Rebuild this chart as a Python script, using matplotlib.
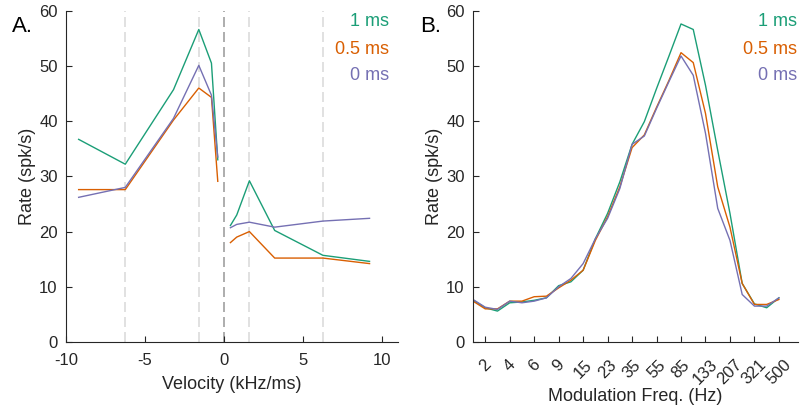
import matplotlib
matplotlib.use("Agg")
import matplotlib.pyplot as plt
import numpy as np

plt.rcParams['font.family'] = ['Liberation Sans', 'DejaVu Sans']
plt.rcParams['axes.unicode_minus'] = False

# ---- Panel A data ----
vel_neg = [-9.2, -6.25, -3.2, -1.6, -0.8, -0.4]
vel_pos = [0.4, 0.8, 1.6, 3.2, 6.25, 9.2]
a_1ms_neg = [36.7, 32.2, 45.7, 56.6, 50.5, 33.0]
a_1ms_pos = [21.1, 23.0, 29.2, 20.2, 15.7, 14.6]
a_05ms_neg = [27.6, 27.6, 40.2, 46.0, 44.3, 29.1]
a_05ms_pos = [18.0, 19.0, 20.0, 15.2, 15.2, 14.2]
a_0ms_neg = [26.2, 28.0, 40.5, 50.1, 44.7, 33.5]
a_0ms_pos = [20.7, 21.3, 21.7, 20.8, 21.9, 22.4]
vlines_light = [-6.25, -1.6, 1.6, 6.25]
vline_dark = [0]

# ---- Panel B data ----
freq_labels = ['2', '4', '6', '9', '15', '23', '35', '55', '85', '133', '207', '321', '500']
b_1ms = [7.6, 6.2, 5.6, 7.1, 7.25, 7.55, 8.0, 10.2, 10.9, 13.0, 18.7, 23.3, 29.0,
         35.8, 39.9, 45.9, 51.7, 57.6, 56.6, 46.5, 34.7, 23.3, 10.6, 6.9, 6.2, 8.0]
b_05ms = [7.4, 6.0, 6.0, 7.4, 7.4, 8.2, 8.3, 9.8, 11.2, 13.0, 18.4, 22.7, 28.1,
          35.2, 37.5, 42.5, 47.3, 52.4, 50.6, 41.4, 28.1, 20.8, 10.6, 6.8, 6.8, 7.7]
b_0ms = [7.7, 6.3, 5.9, 7.4, 7.1, 7.4, 8.0, 10.0, 11.5, 14.2, 18.7, 22.4, 27.8,
         35.8, 37.3, 42.3, 47.1, 51.8, 48.3, 37.8, 24.2, 18.4, 8.6, 6.5, 6.5, 8.0]

legend_labels = ['1 ms', '0.5 ms', '0 ms']
colors = ['#1b9e77', '#d95f02', '#7570b3']
axcol = '#262626'

fig = plt.figure(figsize=(8.01, 4.15), dpi=100)
axA = fig.add_axes([66/801, 1-342/415, 332/801, 331.3/415])
axB = fig.add_axes([473/801, 1-342/415, 325/801, 331.3/415])

def style(ax):
    for s in ['top', 'right']:
        ax.spines[s].set_visible(False)
    for s in ['left', 'bottom']:
        ax.spines[s].set_color(axcol)
        ax.spines[s].set_linewidth(0.8)
    ax.tick_params(direction='in', length=4, width=0.8, colors=axcol,
                   labelsize=12, labelcolor=axcol)
    ax.tick_params(axis='y', pad=6)
    ax.set_ylim(0, 60)
    ax.set_yticks(np.arange(0, 61, 10))
    ax.set_ylabel('Rate (spk/s)', fontsize=13, color=axcol, labelpad=2)

# Panel A
for v in vlines_light:
    axA.plot([v, v], [0, 60], color='#dcdcdc', lw=1.2, dashes=(6, 3), zorder=1)
for v in vline_dark:
    axA.plot([v, v], [0, 60], color='#a0a0a0', lw=1.2, dashes=(6, 3), zorder=1)
for neg, pos, c in [(a_1ms_neg, a_1ms_pos, colors[0]),
                    (a_05ms_neg, a_05ms_pos, colors[1]),
                    (a_0ms_neg, a_0ms_pos, colors[2])]:
    axA.plot(vel_neg, neg, color=c, lw=1.0, zorder=3)
    axA.plot(vel_pos, pos, color=c, lw=1.0, zorder=3)
axA.set_xlim(-10, 11)
axA.set_xticks([-10, -5, 0, 5, 10])
style(axA)
axA.tick_params(axis='x', pad=8)
axA.set_xlabel('Velocity (kHz/ms)', fontsize=13, color=axcol, labelpad=6)

# Panel B
xb = np.arange(len(b_1ms)) * 0.5 - 0.5
for ys, c in [(b_1ms, colors[0]), (b_05ms, colors[1]), (b_0ms, colors[2])]:
    axB.plot(xb, ys, color=c, lw=1.0)
axB.set_xlim(-0.5, 12.78)
axB.set_xticks(np.arange(len(freq_labels)))
axB.set_xticklabels(freq_labels, rotation=45, ha='center')
style(axB)
axB.tick_params(axis='x', pad=11)
axB.set_xlabel('Modulation Freq. (Hz)', fontsize=13, color=axcol, labelpad=0)

# legend text
for ax, xr in [(axA, 389), (axB, 797)]:
    for lab, c, yp in zip(legend_labels, colors, [22, 49, 75]):
        fig.text(xr/801, 1-yp/415, lab, color=c, fontsize=13, ha='right', va='center')

fig.text(12/801, 1-26/415, 'A.', fontsize=16, color='black', va='center')
fig.text(420/801, 1-26/415, 'B.', fontsize=16, color='black', va='center')

fig.savefig('out.png', dpi=100)
